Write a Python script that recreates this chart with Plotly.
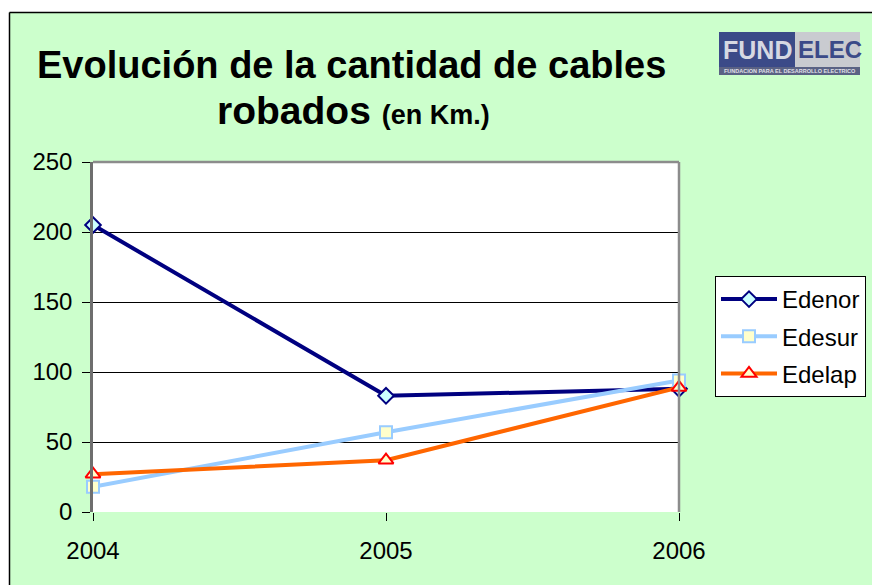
import plotly.graph_objects as go

years = [2004, 2005, 2006]
edenor = [205, 83, 88]
edesur = [18, 57, 94]
edelap = [27, 37, 89]
series_names = ["Edenor", "Edesur", "Edelap"]
y_ticks = [0, 50, 100, 150, 200, 250]

OFF = 8  # default page body margin
W, H = 880 - OFF, 585 - OFF
L, R, T, B = 93, 679, 162, 512  # plot area in reference pixels
FONT = "Arial, Liberation Sans, sans-serif"


def xp(px):
    return (px - L) / (R - L)


def yp(py):
    return (B - py) / (B - T)


fig = go.Figure()
fig.add_trace(go.Scatter(
    x=years, y=edenor, name=series_names[0], mode="lines+markers",
    line=dict(color="#000080", width=4),
    marker=dict(symbol="diamond", size=12, color="#CCFFFF", line=dict(color="#000080", width=2)),
    cliponaxis=False, legendgroup="a"))
fig.add_trace(go.Scatter(
    x=years, y=edesur, name=series_names[1], mode="lines+markers",
    line=dict(color="#99CCFF", width=4),
    marker=dict(symbol="square", size=12, color="#FFFFCC", line=dict(color="#99CCFF", width=2)),
    cliponaxis=False, legendgroup="b"))
fig.add_trace(go.Scatter(
    x=years, y=edelap, name=series_names[2], mode="lines+markers",
    line=dict(color="#FF6600", width=4),
    marker=dict(symbol="triangle-up", size=13, color="#FFFFCC", line=dict(color="#FF0000", width=2)),
    cliponaxis=False, legendgroup="c"))

shapes = [
    # white page margins
    dict(type="rect", xref="paper", yref="paper", x0=xp(-5), x1=xp(9), y0=yp(600), y1=yp(-5),
         fillcolor="white", line=dict(width=0), layer="below"),
    dict(type="rect", xref="paper", yref="paper", x0=xp(-5), x1=xp(890), y0=yp(12), y1=yp(-5),
         fillcolor="white", line=dict(width=0), layer="below"),
    # page border
    dict(type="line", xref="paper", yref="paper", x0=xp(9.5), x1=xp(9.5), y0=yp(600), y1=yp(12.5),
         line=dict(color="black", width=1.5)),
    dict(type="line", xref="paper", yref="paper", x0=xp(9.5), x1=xp(890), y0=yp(12.5), y1=yp(12.5),
         line=dict(color="black", width=1.5)),
    # plot area border top/right
    dict(type="line", xref="paper", yref="paper", x0=0, x1=1, y0=1, y1=1,
         line=dict(color="#8C8C8C", width=2.5)),
    dict(type="line", xref="paper", yref="paper", x0=1, x1=1, y0=0, y1=1,
         line=dict(color="#8C8C8C", width=2.5)),
    # logo
    dict(type="rect", xref="paper", yref="paper", x0=xp(719), x1=xp(795), y0=yp(67), y1=yp(32),
         fillcolor="#3B4A88", line=dict(width=0)),
    dict(type="rect", xref="paper", yref="paper", x0=xp(795), x1=xp(860), y0=yp(67), y1=yp(32),
         fillcolor="#C9CBD0", line=dict(width=0)),
    dict(type="rect", xref="paper", yref="paper", x0=xp(719), x1=xp(860), y0=yp(75), y1=yp(67),
         fillcolor="#5A6284", line=dict(width=0)),
]

annotations = [
    dict(text="<b>Evolución de la cantidad de cables</b>", xref="paper", yref="paper",
         x=xp(351), y=yp(65), xanchor="center", yanchor="middle", showarrow=False,
         font=dict(family=FONT, size=38, color="black")),
    dict(text="<b>robados <span style='font-size:27px'>(en Km.)</span></b>", xref="paper", yref="paper",
         x=xp(353), y=yp(110), xanchor="center", yanchor="middle", showarrow=False,
         font=dict(family=FONT, size=39, color="black")),
    dict(text="<b>FUND</b>", xref="paper", yref="paper", x=xp(794), y=yp(50),
         xanchor="right", yanchor="middle", showarrow=False,
         font=dict(family=FONT, size=25, color="#D6D8E2")),
    dict(text="<b>ELEC</b>", xref="paper", yref="paper", x=xp(796), y=yp(50),
         xanchor="left", yanchor="middle", showarrow=False,
         font=dict(family=FONT, size=24, color="#3B4A88")),
    dict(text="<b>FUNDACION PARA EL DESARROLLO ELECTRICO</b>", xref="paper", yref="paper",
         x=xp(789.5), y=yp(71), xanchor="center", yanchor="middle", showarrow=False,
         font=dict(family=FONT, size=5.5, color="#E0E0E8")),
]

fig.update_layout(
    width=W, height=H,
    margin=dict(l=L - OFF, r=W - (R - OFF), t=T - OFF, b=H - (B - OFF), pad=0),
    paper_bgcolor="#CCFFCC",
    plot_bgcolor="white",
    font=dict(family=FONT, size=24, color="black"),
    shapes=shapes,
    annotations=annotations,
    showlegend=True,
    legend=dict(x=xp(715), y=yp(276), xanchor="left", yanchor="top",
                bgcolor="white", bordercolor="black", borderwidth=1,
                font=dict(family=FONT, size=24, color="black"),
                traceorder="grouped", tracegroupgap=3, itemwidth=56),
)
fig.update_xaxes(
    range=[2004, 2006], tickvals=years, ticktext=[str(y) for y in years],
    showgrid=False, zeroline=False, showline=False,
    ticks="outside", ticklen=8, tickcolor="black", tickwidth=1,
    ticklabelstandoff=9, tickfont=dict(family=FONT, size=24),
)
fig.update_yaxes(
    range=[0, 250], tickvals=y_ticks,
    showgrid=True, gridcolor="black", gridwidth=1,
    zeroline=False, showline=True, linecolor="#6E6E6E", linewidth=2.5,
    ticks="outside", ticklen=8, tickcolor="black", tickwidth=1,
    ticklabelstandoff=5, tickfont=dict(family=FONT, size=24),
)

fig.write_html("out.html")
